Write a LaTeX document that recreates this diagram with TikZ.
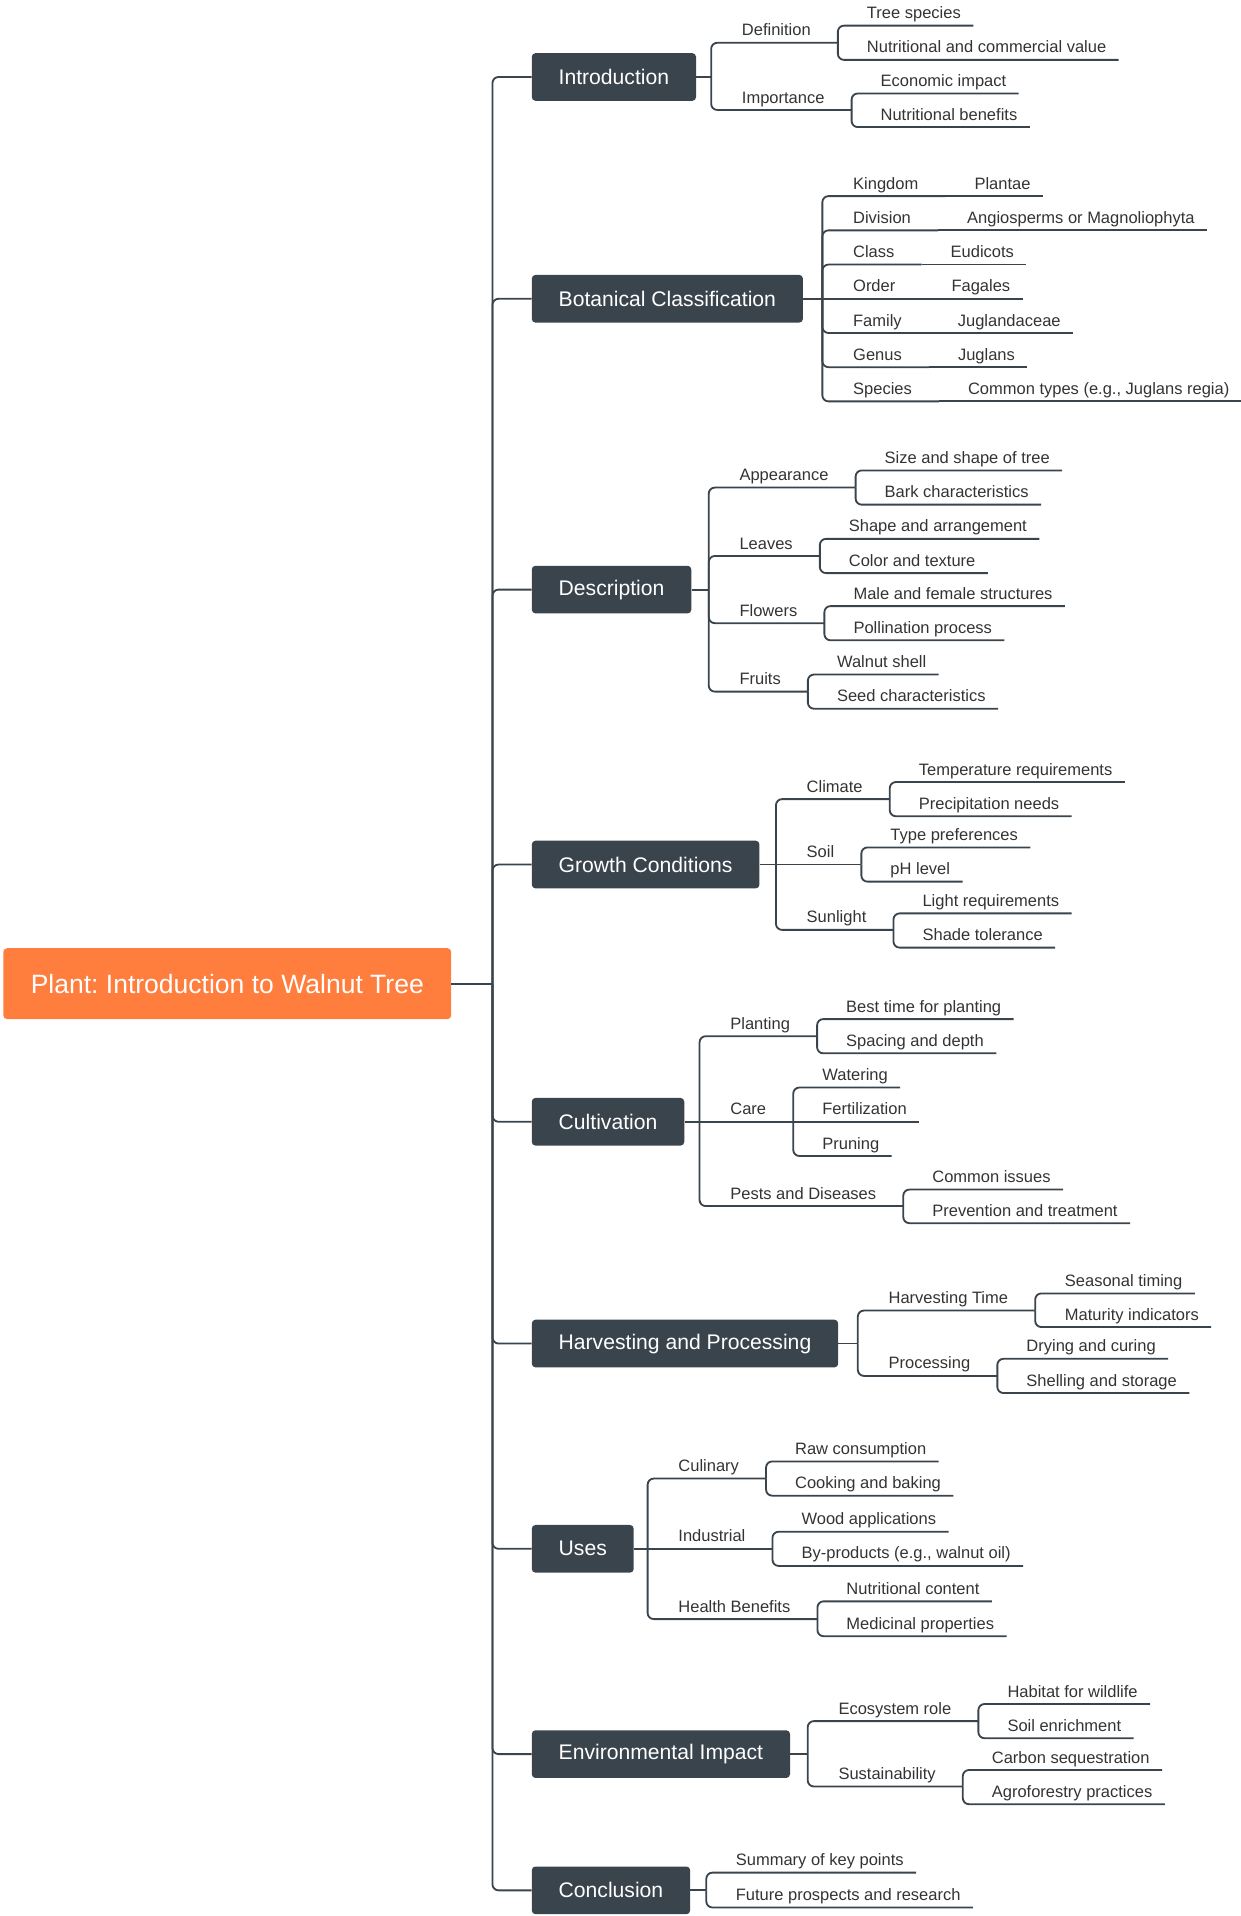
\documentclass[tikz,border=0pt]{standalone}
\usepackage{fontspec}
\setmainfont{Liberation Sans}
\usepackage{xcolor}
\usepackage{tikz}
\usetikzlibrary{positioning}
\definecolor{slate}{RGB}{58,68,77}
\definecolor{walnut}{RGB}{255,125,61}
\definecolor{ink}{RGB}{51,51,51}
\frenchspacing

\begin{document}
\begin{tikzpicture}
  [
    x=1pt, y=-1pt,
    rootbox/.style={
       fill=walnut, text=white, rounded corners=3pt,
       minimum height=58pt, inner xsep=22.4pt,
       font=\fontsize{21.7}{26}\selectfont
    },
    topic/.style={
       anchor=west, fill=slate, text=white, rounded corners=3pt,
       minimum height=39pt, inner xsep=22pt,
       font=\fontsize{17.3}{21}\selectfont
    },
    sub/.style={
       anchor=south west, text=ink, inner xsep=22pt, inner ysep=5.5pt,
       text depth=0pt, font=\fontsize{13.5}{16}\selectfont
    },
    leaf/.style={
       sub, inner xsep=10pt
    },
    link/.style={
       draw=slate, line width=1.5pt, rounded corners=5pt
    }
  ]
  \useasboundingbox (0,0) rectangle (1015,1568);

  \node (root) at (186,805) [rootbox] {Plant: Introduction to Walnut Tree};
  \coordinate (trunk) at (403,805);

  \node (intro)   at (435,  63.0) [topic] {Introduction};
  \node (botan)   at (435, 244.5) [topic] {Botanical Classification};
  \node (descr)   at (435, 482.5) [topic] {Description};
  \node (growth)  at (435, 707.5) [topic] {Growth Conditions};
  \node (cultiv)  at (435, 918.0) [topic] {Cultivation};
  \node (harvest) at (435,1099.5) [topic] {Harvesting and Processing};
  \node (uses)    at (435,1267.5) [topic] {Uses};
  \node (envir)   at (435,1435.5) [topic] {Environmental Impact};
  \node (concl)   at (435,1547.0) [topic] {Conclusion};

  \coordinate (b1) at (582.0,  63.0);
  \coordinate (b2) at (673.0, 244.5);
  \coordinate (b3) at (580.0, 482.5);
  \coordinate (b4) at (635.0, 707.5);
  \coordinate (b5) at (572.5, 918.0);
  \coordinate (b6) at (702.0,1099.5);
  \coordinate (b7) at (530.0,1267.5);
  \coordinate (b8) at (661.0,1435.5);
  \coordinate (b9) at (578.0,1547.0);

  \node (defn)  at (585.0,  35.0) [sub]  {Definition};
  \node (impo)  at (585.0,  90.0) [sub]  {Importance};
  \node (tree)  at (699.3,  21.0) [leaf] {Tree species};
  \node (value) at (699.3,  49.0) [leaf] {Nutritional and commercial value};
  \node (econ)  at (710.5,  76.5) [leaf] {Economic impact};
  \node (nben)  at (710.5, 104.0) [leaf] {Nutritional benefits};

  \node (kingd)   at (676.0, 160.5) [sub]  {Kingdom};
  \node (divis)   at (676.0, 188.5) [sub]  {Division};
  \node (class)   at (676.0, 216.5) [sub]  {Class};
  \node (order)   at (676.0, 244.5) [sub]  {Order};
  \node (famil)   at (676.0, 272.5) [sub]  {Family};
  \node (genus)   at (676.0, 300.5) [sub]  {Genus};
  \node (speci)   at (676.0, 328.5) [sub]  {Species};
  \node (plantae) at (787.3, 160.5) [leaf] {Plantae};
  \node (angio)   at (781.3, 188.5) [leaf] {Angiosperms or Magnoliophyta};
  \node (eudic)   at (767.8, 216.5) [leaf] {Eudicots};
  \node (fagal)   at (768.5, 244.5) [leaf] {Fagales};
  \node (jugla)   at (773.7, 272.5) [leaf] {Juglandaceae};
  \node (juglans) at (773.8, 300.5) [leaf] {Juglans};
  \node (types)   at (782.0, 328.5) [leaf] {Common types (e.g., Juglans regia)};

  \node (appea) at (583.0, 399.0) [sub]  {Appearance};
  \node (leave) at (583.0, 455.0) [sub]  {Leaves};
  \node (flowe) at (583.0, 510.0) [sub]  {Flowers};
  \node (fruit) at (583.0, 566.0) [sub]  {Fruits};
  \node (size)  at (713.8, 385.0) [leaf] {Size and shape of tree};
  \node (bark)  at (713.8, 413.0) [leaf] {Bark characteristics};
  \node (shape) at (684.5, 441.0) [leaf] {Shape and arrangement};
  \node (color) at (684.5, 469.0) [leaf] {Color and texture};
  \node (male)  at (688.3, 496.0) [leaf] {Male and female structures};
  \node (polli) at (688.3, 524.0) [leaf] {Pollination process};
  \node (wshel) at (674.8, 552.0) [leaf] {Walnut shell};
  \node (seed)  at (674.8, 580.0) [leaf] {Seed characteristics};

  \node (clima) at (638.0, 654.0) [sub]  {Climate};
  \node (soil)  at (638.0, 707.5) [sub]  {Soil};
  \node (sunli) at (638.0, 761.0) [sub]  {Sunlight};
  \node (tempe) at (741.8, 640.0) [leaf] {Temperature requirements};
  \node (preci) at (741.8, 668.0) [leaf] {Precipitation needs};
  \node (ptype) at (718.5, 693.5) [leaf] {Type preferences};
  \node (phlev) at (718.5, 721.5) [leaf] {pH level};
  \node (light) at (744.8, 747.5) [leaf] {Light requirements};
  \node (shade) at (744.8, 775.5) [leaf] {Shade tolerance};

  \node (plant) at (575.5, 848.0) [sub]  {Planting};
  \node (care)  at (575.5, 918.0) [sub]  {Care};
  \node (pests) at (575.5, 987.0) [sub]  {Pests and Diseases};
  \node (btime) at (682.3, 834.0) [leaf] {Best time for planting};
  \node (spaci) at (682.3, 862.0) [leaf] {Spacing and depth};
  \node (water) at (662.8, 890.0) [leaf] {Watering};
  \node (ferti) at (662.8, 918.0) [leaf] {Fertilization};
  \node (prune) at (662.8, 946.0) [leaf] {Pruning};
  \node (issue) at (752.8, 973.5) [leaf] {Common issues};
  \node (preve) at (752.8,1001.0) [leaf] {Prevention and treatment};

  \node (htime) at (705.0,1072.5) [sub]  {Harvesting Time};
  \node (proce) at (705.0,1126.0) [sub]  {Processing};
  \node (seaso) at (861.3,1058.5) [leaf] {Seasonal timing};
  \node (matur) at (861.3,1086.0) [leaf] {Maturity indicators};
  \node (dryin) at (829.8,1112.0) [leaf] {Drying and curing};
  \node (sstor) at (829.8,1140.0) [leaf] {Shelling and storage};

  \node (culin) at (533.0,1210.0) [sub]  {Culinary};
  \node (indus) at (533.0,1267.5) [sub]  {Industrial};
  \node (healt) at (533.0,1325.0) [sub]  {Health Benefits};
  \node (rawco) at (640.5,1196.0) [leaf] {Raw consumption};
  \node (cooki) at (640.5,1224.0) [leaf] {Cooking and baking};
  \node (woodp) at (645.8,1253.5) [leaf] {Wood applications};
  \node (bypro) at (645.8,1281.5) [leaf] {By-products (e.g., walnut oil)};
  \node (ncont) at (682.5,1310.5) [leaf] {Nutritional content};
  \node (medic) at (682.5,1339.0) [leaf] {Medicinal properties};

  \node (ecosy) at (664.0,1408.5) [sub]  {Ecosystem role};
  \node (susta) at (664.0,1462.0) [sub]  {Sustainability};
  \node (habit) at (814.3,1394.5) [leaf] {Habitat for wildlife};
  \node (senri) at (814.3,1422.5) [leaf] {Soil enrichment};
  \node (carbo) at (801.5,1448.5) [leaf] {Carbon sequestration};
  \node (agrof) at (801.5,1476.5) [leaf] {Agroforestry practices};

  \node (summa) at (592.0,1532.5) [leaf] {Summary of key points};
  \node (futur) at (592.0,1561.0) [leaf] {Future prospects and research};

  \draw [link] (root) -- (trunk);
  \draw [link] (trunk) |- (intro);
  \draw [link] (trunk) |- (botan);
  \draw [link] (trunk) |- (descr);
  \draw [link] (trunk) |- (growth);
  \draw [link] (trunk) |- (cultiv);
  \draw [link] (trunk) |- (harvest);
  \draw [link] (trunk) |- (uses);
  \draw [link] (trunk) |- (envir);
  \draw [link] (trunk) |- (concl);

  \draw [link] (intro) -- (b1);
  \draw [link] (b1) |- (defn.south east);
  \draw [link] (b1) |- (impo.south east);
  \draw [link] (defn.south east) |- (tree.south east);
  \draw [link] (defn.south east) |- (value.south east);
  \draw [link] (impo.south east) |- (econ.south east);
  \draw [link] (impo.south east) |- (nben.south east);

  \draw [link] (botan) -- (b2);
  \draw [link] (b2) |- (kingd.south east);
  \draw [link] (b2) |- (divis.south east);
  \draw [link] (b2) |- (class.south east);
  \draw [link] (b2) -- (order.south east);
  \draw [link] (b2) |- (famil.south east);
  \draw [link] (b2) |- (genus.south east);
  \draw [link] (b2) |- (speci.south east);
  \draw [link] (kingd.south east) -- (plantae.south east);
  \draw [link] (divis.south east) -- (angio.south east);
  \draw [link] (class.south east) -- (eudic.south east);
  \draw [link] (order.south east) -- (fagal.south east);
  \draw [link] (famil.south east) -- (jugla.south east);
  \draw [link] (genus.south east) -- (juglans.south east);
  \draw [link] (speci.south east) -- (types.south east);

  \draw [link] (descr) -- (b3);
  \draw [link] (b3) |- (appea.south east);
  \draw [link] (b3) |- (leave.south east);
  \draw [link] (b3) |- (flowe.south east);
  \draw [link] (b3) |- (fruit.south east);
  \draw [link] (appea.south east) |- (size.south east);
  \draw [link] (appea.south east) |- (bark.south east);
  \draw [link] (leave.south east) |- (shape.south east);
  \draw [link] (leave.south east) |- (color.south east);
  \draw [link] (flowe.south east) |- (male.south east);
  \draw [link] (flowe.south east) |- (polli.south east);
  \draw [link] (fruit.south east) |- (wshel.south east);
  \draw [link] (fruit.south east) |- (seed.south east);

  \draw [link] (growth) -- (b4);
  \draw [link] (b4) |- (clima.south east);
  \draw [link] (b4) -- (soil.south east);
  \draw [link] (b4) |- (sunli.south east);
  \draw [link] (clima.south east) |- (tempe.south east);
  \draw [link] (clima.south east) |- (preci.south east);
  \draw [link] (soil.south east) |- (ptype.south east);
  \draw [link] (soil.south east) |- (phlev.south east);
  \draw [link] (sunli.south east) |- (light.south east);
  \draw [link] (sunli.south east) |- (shade.south east);

  \draw [link] (cultiv) -- (b5);
  \draw [link] (b5) |- (plant.south east);
  \draw [link] (b5) -- (care.south east);
  \draw [link] (b5) |- (pests.south east);
  \draw [link] (plant.south east) |- (btime.south east);
  \draw [link] (plant.south east) |- (spaci.south east);
  \draw [link] (care.south east) |- (water.south east);
  \draw [link] (care.south east) -- (ferti.south east);
  \draw [link] (care.south east) |- (prune.south east);
  \draw [link] (pests.south east) |- (issue.south east);
  \draw [link] (pests.south east) |- (preve.south east);

  \draw [link] (harvest) -- (b6);
  \draw [link] (b6) |- (htime.south east);
  \draw [link] (b6) |- (proce.south east);
  \draw [link] (htime.south east) |- (seaso.south east);
  \draw [link] (htime.south east) |- (matur.south east);
  \draw [link] (proce.south east) |- (dryin.south east);
  \draw [link] (proce.south east) |- (sstor.south east);

  \draw [link] (uses) -- (b7);
  \draw [link] (b7) |- (culin.south east);
  \draw [link] (b7) -- (indus.south east);
  \draw [link] (b7) |- (healt.south east);
  \draw [link] (culin.south east) |- (rawco.south east);
  \draw [link] (culin.south east) |- (cooki.south east);
  \draw [link] (indus.south east) |- (woodp.south east);
  \draw [link] (indus.south east) |- (bypro.south east);
  \draw [link] (healt.south east) |- (ncont.south east);
  \draw [link] (healt.south east) |- (medic.south east);

  \draw [link] (envir) -- (b8);
  \draw [link] (b8) |- (ecosy.south east);
  \draw [link] (b8) |- (susta.south east);
  \draw [link] (ecosy.south east) |- (habit.south east);
  \draw [link] (ecosy.south east) |- (senri.south east);
  \draw [link] (susta.south east) |- (carbo.south east);
  \draw [link] (susta.south east) |- (agrof.south east);

  \draw [link] (concl) -- (b9);
  \draw [link] (b9) |- (summa.south east);
  \draw [link] (b9) |- (futur.south east);
\end{tikzpicture}
\end{document}
